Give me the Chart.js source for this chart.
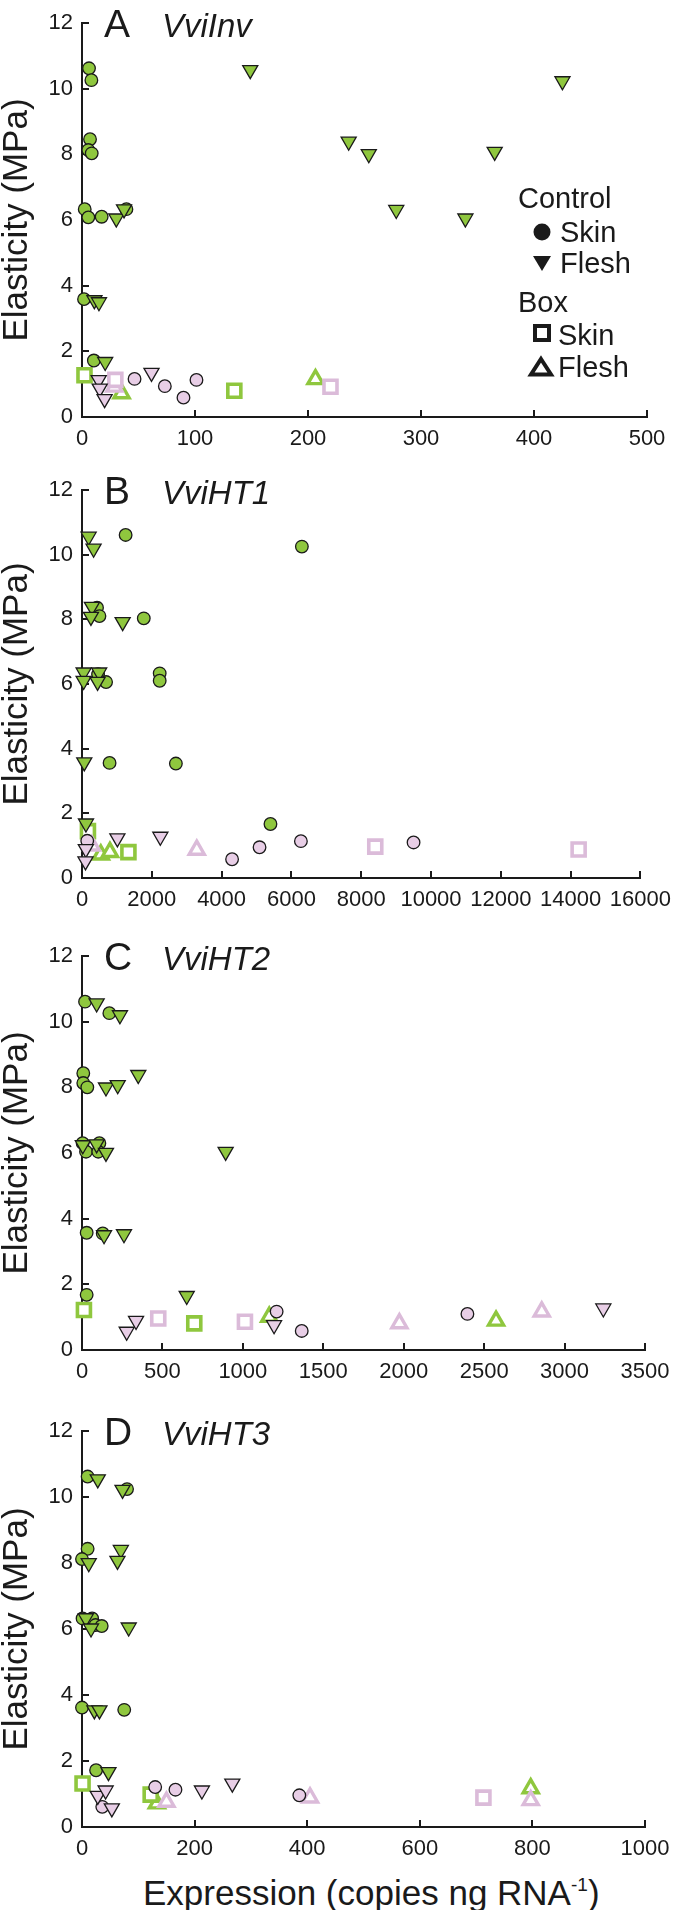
<!DOCTYPE html>
<html>
<head>
<meta charset="utf-8">
<script src="https://cdn.jsdelivr.net/npm/chart.js@4.4.1/dist/chart.umd.min.js"></script>
<style>
  html, body { margin: 0; padding: 0; background: #fff; }
  #page { position: relative; width: 680px; height: 1910px; }
  .panel { position: absolute; left: 0; width: 680px; }
  #xTitle {
    position: absolute; left: 143px; top: 1875px; white-space: nowrap;
    font: 35px "Liberation Sans", Arial, sans-serif; line-height: 35px; color: #1a1a1a;
  }
  #xTitle sup { font-size: 19px; vertical-align: 14px; line-height: 0; }
</style>
</head>
<body>
<div id="page">
  <div class="panel" style="top:0;height:460px"><canvas id="chartA"></canvas></div>
  <div class="panel" style="top:460px;height:460px"><canvas id="chartB"></canvas></div>
  <div class="panel" style="top:925px;height:460px"><canvas id="chartC"></canvas></div>
  <div class="panel" style="top:1400px;height:470px"><canvas id="chartD"></canvas></div>
  <div id="xTitle">Expression (copies ng RNA<sup>-1</sup>)</div>
</div>
<script>
// tick values
const yTicks = [0, 2, 4, 6, 8, 10, 12];
const xTicksA = [0, 100, 200, 300, 400, 500];
const xTicksB = [0, 2000, 4000, 6000, 8000, 10000, 12000, 14000, 16000];
const xTicksC = [0, 500, 1000, 1500, 2000, 2500, 3000, 3500];
const xTicksD = [0, 200, 400, 600, 800, 1000];

// [expression, elasticity] ; G = green, P = pink
// A  VviInv
const aCtlSkinG = [[6.2,10.62],[8.3,10.26],[7.1,8.46],[5.6,8.13],[8.6,8.03],[2.4,6.33],[5.6,6.08],[17.4,6.10],[39.3,6.33],[1.8,3.59],[10.5,1.72]];
const aCtlFleshG = [[148.9,10.57],[425.2,10.23],[236,8.39],[253.8,8.01],[365.2,8.08],[278.1,6.31],[339.3,6.05],[30.4,6.05],[37.2,6.33],[11,3.56],[15,3.5],[20.5,1.68]];
const aCtlSkinP = [[46.5,1.16],[73.3,0.94],[89.8,0.59],[101.3,1.13]];
const aCtlFleshP = [[61.5,1.35],[14.8,1.13],[15.7,0.87],[20,0.55]];
const aBoxSkinG = [[2.2,1.27],[134.8,0.80]];
const aBoxSkinP = [[29.5,1.13],[219.9,0.92]];
const aBoxFleshG = [[206.6,1.15],[35,0.72]];
const aBoxFleshP = [[28.6,0.92]];

// B  VviHT1
const bCtlSkinG = [[1250,10.61],[6300,10.25],[1770,8.03],[430,8.36],[500,8.1],[2226,6.33],[2226,6.10],[460,6.3],[690,6.06],[790,3.56],[2690,3.54],[5400,1.67]];
const bCtlFleshG = [[190,10.56],[332,10.19],[284,8.39],[256,8.08],[1165,7.92],[47,6.36],[47,6.10],[492,6.36],[446,6.07],[65,3.58],[114,1.69]];
const bCtlSkinP = [[150,1.15],[4300,0.58],[5087,0.95],[6272,1.14],[9500,1.10]];
const bCtlFleshP = [[1014,1.23],[2245,1.28],[110,0.9],[100,0.52]];
const bBoxSkinG = [[170,1.45],[1330,0.8]];
const bBoxSkinP = [[8403,0.97],[14230,0.88]];
const bBoxFleshG = [[540,0.72],[800,0.8]];
const bBoxFleshP = [[3288,0.87],[280,1.0]];

// C  VviHT2
const cCtlSkinG = [[19,10.61],[170,10.26],[8,8.43],[8,8.13],[33,8.0],[4,6.30],[25,6.04],[108,6.30],[101,6.04],[29,3.57],[129,3.55],[29,1.68]];
const cCtlFleshG = [[91,10.56],[236,10.20],[350,8.38],[149,8.0],[222,8.07],[5,6.24],[91,6.27],[149,6.01],[893,6.04],[137,3.50],[261,3.53],[651,1.65]];
const cCtlSkinP = [[1366,0.58],[1210,1.17],[2396,1.10]];
const cCtlFleshP = [[278,0.56],[336,0.89],[1194,0.76],[3241,1.27]];
const cBoxSkinG = [[12,1.22],[698,0.81]];
const cBoxSkinP = [[474,0.96],[1013,0.86]];
const cBoxFleshG = [[1164,1.01],[2574,0.89]];
const cBoxFleshP = [[1973,0.81],[2858,1.17]];

// D  VviHT3
const dCtlSkinG = [[10,10.62],[80,10.24],[10,8.43],[0,8.12],[1,6.32],[18,6.32],[24,6.12],[35,6.09],[0,3.62],[75,3.55],[25,1.72]];
const dCtlFleshG = [[28,10.54],[72,10.22],[69,8.4],[63,8.07],[12,8.0],[7,6.33],[16,6.02],[83,6.05],[22,3.54],[31,3.54],[47,1.67]];
const dCtlSkinP = [[130,1.21],[166,1.13],[36,0.61],[386,0.96]];
const dCtlFleshP = [[213,1.11],[267,1.32],[28,0.95],[42,1.11],[53,0.57]];
const dBoxSkinG = [[1,1.32],[122,0.98]];
const dBoxSkinP = [[713,0.89]];
const dBoxFleshG = [[133,0.71],[797,1.17]];
const dBoxFleshP = [[150,0.76],[405,0.89],[797,0.81]];

const FONT = '"Liberation Sans", Arial, Helvetica, sans-serif';
const INK = '#1a1a1a';
const GREEN = '#8fc73e';
const PINK = '#e8cee6';
const PINK_LINE = '#dbbbd9';

function series(points, kind, colour) {
    const base = { data: points.map(p => ({ x: p[0], y: p[1] })), showLine: false, clip: false };
    if (kind === 'ctlSkin') {
        return { ...base, pointStyle: 'circle', pointRadius: 6.3, pointBackgroundColor: colour, pointBorderColor: INK, pointBorderWidth: 1.3 };
    }
    if (kind === 'ctlFlesh') {
        return { ...base, pointStyle: 'triangle', pointRotation: 180, pointRadius: 8.7, pointBackgroundColor: colour, pointBorderColor: INK, pointBorderWidth: 1.3 };
    }
    if (kind === 'boxSkin') {
        return { ...base, pointStyle: 'rect', pointRadius: 9.2, pointBackgroundColor: '#fff', pointBorderColor: colour, pointBorderWidth: 3.6 };
    }
    return { ...base, pointStyle: 'triangle', pointRadius: 8.7, pointBackgroundColor: '#fff', pointBorderColor: colour, pointBorderWidth: 3.4 };
}

// tick marks drawn inside the plot, like the original
const inwardTicks = {
    id: 'inwardTicks',
    beforeDatasetsDraw(chart) {
        const { ctx, chartArea, scales } = chart;
        ctx.save();
        ctx.strokeStyle = INK;
        ctx.lineWidth = 2;
        ctx.beginPath();
        scales.x.ticks.forEach(t => {
            const px = Math.round(scales.x.getPixelForValue(t.value));
            ctx.moveTo(px, chartArea.bottom);
            ctx.lineTo(px, chartArea.bottom - 7);
        });
        scales.y.ticks.forEach(t => {
            const py = Math.round(scales.y.getPixelForValue(t.value));
            ctx.moveTo(chartArea.left, py);
            ctx.lineTo(chartArea.left + 7, py);
        });
        ctx.stroke();
        ctx.restore();
    }
};

const panelLabel = {
    id: 'panelLabel',
    afterDraw(chart, args, opts) {
        const { ctx, chartArea } = chart;
        ctx.save();
        ctx.fillStyle = INK;
        ctx.textBaseline = 'alphabetic';
        ctx.font = '39px ' + FONT;
        ctx.fillText(opts.letter, chartArea.left + 22, chartArea.top + 14);
        ctx.font = 'italic 33px ' + FONT;
        ctx.fillText(opts.gene, chartArea.left + 80, chartArea.top + 14);
        ctx.restore();
    }
};

// legend with group headings (panel A only)
const groupLegend = {
    id: 'groupLegend',
    afterDraw(chart) {
        const ctx = chart.ctx;
        ctx.save();
        ctx.fillStyle = INK;
        ctx.strokeStyle = INK;
        ctx.font = '29px ' + FONT;
        ctx.textBaseline = 'alphabetic';
        ctx.fillText('Control', 518, 208);
        ctx.fillText('Skin', 560, 242);
        ctx.fillText('Flesh', 560, 273);
        ctx.fillText('Box', 518, 312);
        ctx.fillText('Skin', 558, 345);
        ctx.fillText('Flesh', 558, 377);

        ctx.beginPath();
        ctx.arc(542, 232, 8.5, 0, Math.PI * 2);
        ctx.fill();

        ctx.beginPath();
        ctx.moveTo(533, 256);
        ctx.lineTo(551, 256);
        ctx.lineTo(542, 271);
        ctx.closePath();
        ctx.fill();

        ctx.lineWidth = 4;
        ctx.strokeRect(535, 326, 14, 14);

        ctx.lineJoin = 'miter';
        ctx.beginPath();
        ctx.moveTo(541, 359);
        ctx.lineTo(551, 374.5);
        ctx.lineTo(531, 374.5);
        ctx.closePath();
        ctx.stroke();
        ctx.restore();
    }
};

function makeChart(id, xTicks, groups, layout, labels, extra) {
    const [ctlSkinG, ctlFleshG, ctlSkinP, ctlFleshP, boxSkinG, boxSkinP, boxFleshG, boxFleshP] = groups;
    return new Chart(document.getElementById(id), {
        type: 'scatter',
        data: {
            datasets: [
                series(ctlFleshP, 'ctlFlesh', PINK),
                series(ctlSkinP, 'ctlSkin', PINK),
                series(boxSkinP, 'boxSkin', PINK_LINE),
                series(boxFleshP, 'boxFlesh', PINK_LINE),
                series(ctlFleshG, 'ctlFlesh', GREEN),
                series(ctlSkinG, 'ctlSkin', GREEN),
                series(boxSkinG, 'boxSkin', GREEN),
                series(boxFleshG, 'boxFlesh', GREEN)
            ]
        },
        options: {
            responsive: true,
            maintainAspectRatio: false,
            animation: false,
            events: [],
            layout: { padding: { left: 0, right: layout.right, top: layout.top, bottom: layout.bottom } },
            plugins: {
                legend: { display: false },
                tooltip: { enabled: false },
                panelLabel: labels
            },
            scales: {
                x: {
                    type: 'linear',
                    min: xTicks[0],
                    max: xTicks[xTicks.length - 1],
                    afterBuildTicks: s => { s.ticks = xTicks.map(v => ({ value: v })); },
                    afterFit: s => { s.height = layout.xHeight; },
                    grid: { display: true, drawOnChartArea: false, drawTicks: false },
                    border: { display: true, color: INK, width: 2 },
                    ticks: { color: INK, font: { family: FONT, size: 22 }, padding: 9, maxRotation: 0, autoSkip: false, callback: v => String(v) }
                },
                y: {
                    type: 'linear',
                    min: 0,
                    max: 12,
                    afterBuildTicks: s => { s.ticks = yTicks.map(v => ({ value: v })); },
                    afterFit: s => { s.width = 82; },
                    grid: { display: true, drawOnChartArea: false, drawTicks: false },
                    border: { display: true, color: INK, width: 2 },
                    ticks: { color: INK, font: { family: FONT, size: 22 }, padding: 9, callback: v => String(v) },
                    title: { display: true, text: 'Elasticity (MPa)', color: INK, font: { family: FONT, size: 35, lineHeight: 1 }, padding: 0 }
                }
            }
        },
        plugins: [inwardTicks, panelLabel].concat(extra || [])
    });
}

makeChart('chartA', xTicksA,
    [aCtlSkinG, aCtlFleshG, aCtlSkinP, aCtlFleshP, aBoxSkinG, aBoxSkinP, aBoxFleshG, aBoxFleshP],
    { top: 23, right: 33, bottom: 3, xHeight: 40 }, { letter: 'A', gene: 'VviInv' }, [groupLegend]);

makeChart('chartB', xTicksB,
    [bCtlSkinG, bCtlFleshG, bCtlSkinP, bCtlFleshP, bBoxSkinG, bBoxSkinP, bBoxFleshG, bBoxFleshP],
    { top: 30, right: 35, bottom: 2, xHeight: 40 }, { letter: 'B', gene: 'VviHT1' });

makeChart('chartC', xTicksC,
    [cCtlSkinG, cCtlFleshG, cCtlSkinP, cCtlFleshP, cBoxSkinG, cBoxSkinP, cBoxFleshG, cBoxFleshP],
    { top: 31, right: 35, bottom: 2, xHeight: 33 }, { letter: 'C', gene: 'VviHT2' });

makeChart('chartD', xTicksD,
    [dCtlSkinG, dCtlFleshG, dCtlSkinP, dCtlFleshP, dBoxSkinG, dBoxSkinP, dBoxFleshG, dBoxFleshP],
    { top: 31, right: 35, bottom: 3, xHeight: 40 }, { letter: 'D', gene: 'VviHT3' });
</script>
</body>
</html>
